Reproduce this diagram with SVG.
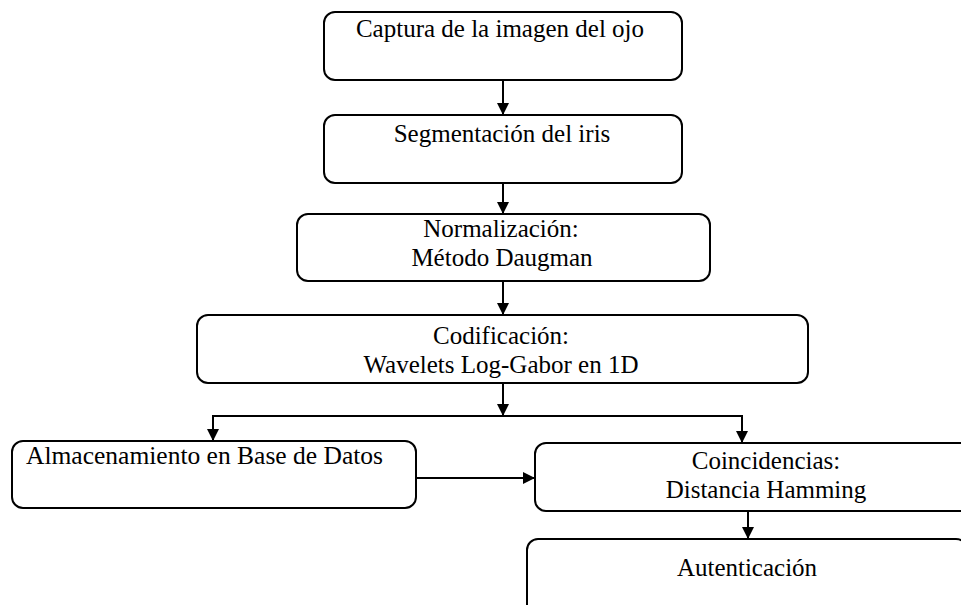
<svg xmlns="http://www.w3.org/2000/svg" width="961" height="605" viewBox="0 0 961 605">
<style>
.box{fill:#ffffff;stroke:#000;stroke-width:2}
.t{font-family:"Liberation Serif","Times New Roman",serif;font-size:25px;fill:#000;text-anchor:middle}
.tl{font-family:"Liberation Serif","Times New Roman",serif;font-size:25px;fill:#000}
.c{fill:none;stroke:#000;stroke-width:2}
</style>
<defs>
<marker id="ah" viewBox="0 0 12 12" refX="12" refY="6" markerWidth="12" markerHeight="12" markerUnits="userSpaceOnUse" orient="auto">
<path d="M0,0 L12,6 L0,12 Z" fill="#000"/>
</marker>
</defs>
<rect width="961" height="605" fill="#fff"/>
<g id="n1"><rect class="box" x="324" y="12" width="358" height="68" rx="11"/><text class="t" x="500" y="37">Captura de la imagen del ojo</text></g>
<g id="n2"><rect class="box" x="324" y="115" width="358" height="68" rx="11"/><text class="t" x="502" y="142">Segmentación del iris</text></g>
<g id="n3"><rect class="box" x="297" y="214" width="413" height="67" rx="11"/><text class="t" x="501" y="237">Normalización:</text><text class="t" x="502" y="266">Método Daugman</text></g>
<g id="n4"><rect class="box" x="197" y="315" width="611" height="68" rx="11"/><text class="t" x="501" y="344">Codificación:</text><text class="t" x="501" y="373">Wavelets Log-Gabor en 1D</text></g>
<g id="n5"><rect class="box" x="12" y="441" width="404" height="67" rx="11"/><text class="tl" x="26" y="464" textLength="357" lengthAdjust="spacingAndGlyphs">Almacenamiento en Base de Datos</text></g>
<g id="n6"><rect class="box" x="535" y="443" width="462" height="68" rx="11"/><text class="t" x="766" y="469">Coincidencias:</text><text class="t" x="766" y="498">Distancia Hamming</text></g>
<g id="n7"><rect class="box" x="527" y="539" width="440" height="80" rx="11"/><text class="t" x="747" y="576">Autenticación</text></g>
<g id="connectors">
<line class="c" x1="503" y1="80" x2="503" y2="115" marker-end="url(#ah)"/>
<line class="c" x1="503" y1="183" x2="503" y2="214" marker-end="url(#ah)"/>
<line class="c" x1="503" y1="281" x2="503" y2="315" marker-end="url(#ah)"/>
<line class="c" x1="503" y1="383" x2="503" y2="416" marker-end="url(#ah)"/>
<polyline class="c" points="213,441 213,416 742,416 742,443"/>
<line class="c" x1="213" y1="416" x2="213" y2="441" marker-end="url(#ah)"/>
<line class="c" x1="742" y1="416" x2="742" y2="443" marker-end="url(#ah)"/>
<line class="c" x1="416" y1="478" x2="535" y2="478" marker-end="url(#ah)"/>
<line class="c" x1="748" y1="511" x2="748" y2="539" marker-end="url(#ah)"/>
</g>
</svg>
